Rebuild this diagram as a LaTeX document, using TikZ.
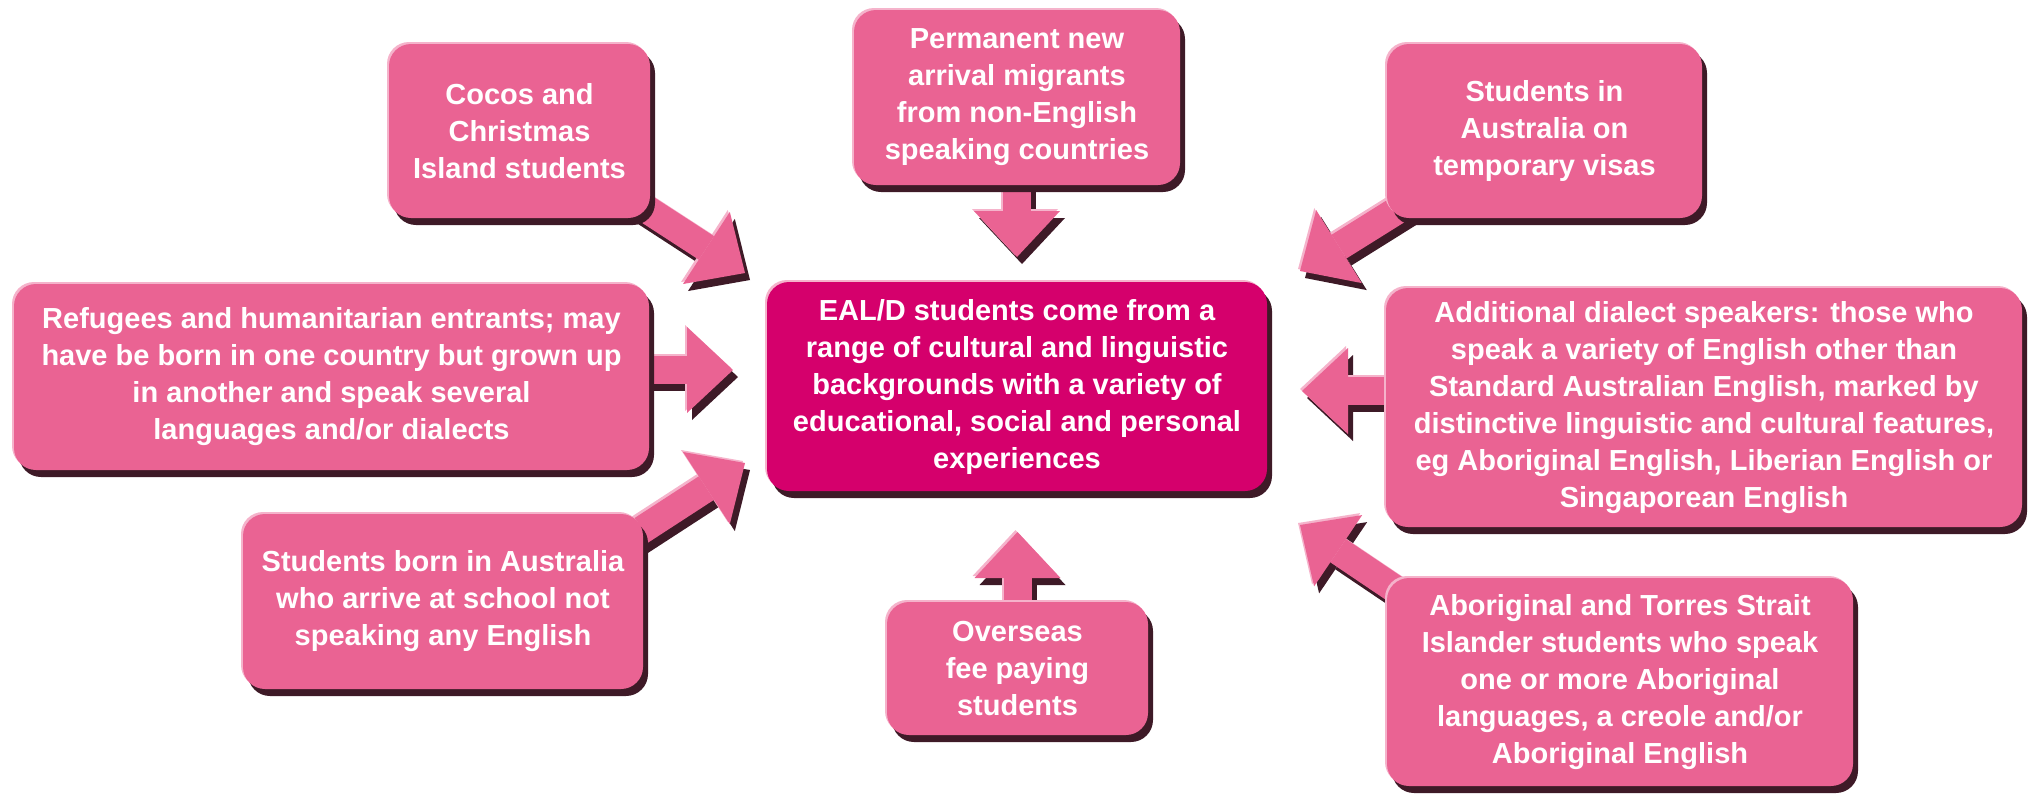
\documentclass[tikz,border=0pt]{standalone}
\usepackage{fontspec}
\setmainfont{Liberation Sans}
\usetikzlibrary{arrows.meta,shadows,backgrounds}

\definecolor{boxpink}{HTML}{EA6393}
\definecolor{coremag}{HTML}{D5006C}
\definecolor{edgedark}{HTML}{3E1A27}
\definecolor{edgelight}{HTML}{F5B3CB}

\tikzset{
  box/.style={rounded corners=11pt,fill=boxpink,text=white,align=center,inner sep=0pt,
    font=\fontsize{14.5}{18.5}\selectfont\bfseries,
    general shadow={fill=edgedark,shadow xshift=2.5pt,shadow yshift=-3.5pt},
    general shadow={fill=edgelight,shadow xshift=-1pt,shadow yshift=1pt}},
  corebox/.style={box,fill=coremag},
  arr/.style={line width=14pt,draw=boxpink,-{Triangle[width=43pt,length=23pt,line width=0pt]}},
  arrdark/.style={arr,draw=edgedark,transform canvas={shift={(2.5pt,-3.5pt)}}},
  arrlight/.style={arr,draw=edgelight,transform canvas={shift={(-1pt,1pt)}}}
}
% block arrow with its bevel
\newcommand{\bigarrow}[2]{%
  \draw[arrdark] #1 -- #2;
  \draw[arrlight] #1 -- #2;
  \draw[arr] #1 -- #2;}

\begin{document}
\begin{tikzpicture}[x=0.5pt,y=-0.5pt]
  \useasboundingbox (0,0) rectangle (2031,805);
  % centre
  \node[corebox,minimum width=250pt,minimum height=104.5pt] (eald) at (1017,386.5)
    {EAL/D students come from a\\range of cultural and linguistic\\backgrounds with a variety of\\educational, social and personal\\experiences};
  % groups round it
  \node[box,minimum width=130.5pt,minimum height=87pt] (cocos) at (519.5,131)
    {Cocos and\\Christmas\\Island students};
  \node[box,minimum width=163pt,minimum height=87.5pt] (perm) at (1017,97.5)
    {Permanent new\\arrival migrants\\from non-English\\speaking countries};
  \node[box,minimum width=157.5pt,minimum height=87pt] (visa) at (1544.5,131)
    {Students in\\Australia on\\temporary visas};
  \node[box,minimum width=317.5pt,minimum height=93pt] (refugee) at (331.5,377)
    {Refugees and humanitarian entrants; may\\have be born in one country but grown up\\in another and speak several\\languages and/or dialects};
  \node[box,minimum width=318pt,minimum height=119.5pt] (dialect) at (1704,407.5)
    {Additional dialect speakers: those who\\speak a variety of English other than\\Standard Australian English, marked by\\distinctive linguistic and cultural features,\\eg Aboriginal English, Liberian English or\\Singaporean English};
  \node[box,minimum width=200pt,minimum height=87.5pt] (born) at (443,601.5)
    {Students born in Australia\\who arrive at school not\\speaking any English};
  \node[box,minimum width=130.5pt,minimum height=66.5pt] (overseas) at (1017.5,668.5)
    {Overseas\\fee paying\\students};
  \node[box,minimum width=233pt,minimum height=104pt] (aborig) at (1620,682)
    {Aboriginal and Torres Strait\\Islander students who speak\\one or more Aboriginal\\languages, a creole and/or\\Aboriginal English};
  % arrow tips
  \coordinate (tip1) at (745,273);
  \coordinate (tip2) at (1017,257);
  \coordinate (tip3) at (1300,271);
  \coordinate (tip4) at (733,370);
  \coordinate (tip5) at (1302,391);
  \coordinate (tip6) at (745,463);
  \coordinate (tip7) at (1017.5,532);
  \coordinate (tip8) at (1300,525);
  \begin{scope}[on background layer]
    \bigarrow{([shift={(57.8,33.1)}]cocos.center)}{(tip1)}
    \bigarrow{(perm.center)}{(tip2)}
    \bigarrow{([shift={(-74.9,34)}]visa.center)}{(tip3)}
    \bigarrow{([shift={(0,-7)}]refugee.center)}{(tip4)}
    \bigarrow{([shift={(0,-16.5)}]dialect.center)}{(tip5)}
    \bigarrow{([shift={(159.4,-45.9)}]born.center)}{(tip6)}
    \bigarrow{(overseas.center)}{(tip7)}
    \bigarrow{([shift={(-162.5,-50.8)}]aborig.center)}{(tip8)}
  \end{scope}
\end{tikzpicture}
\end{document}
